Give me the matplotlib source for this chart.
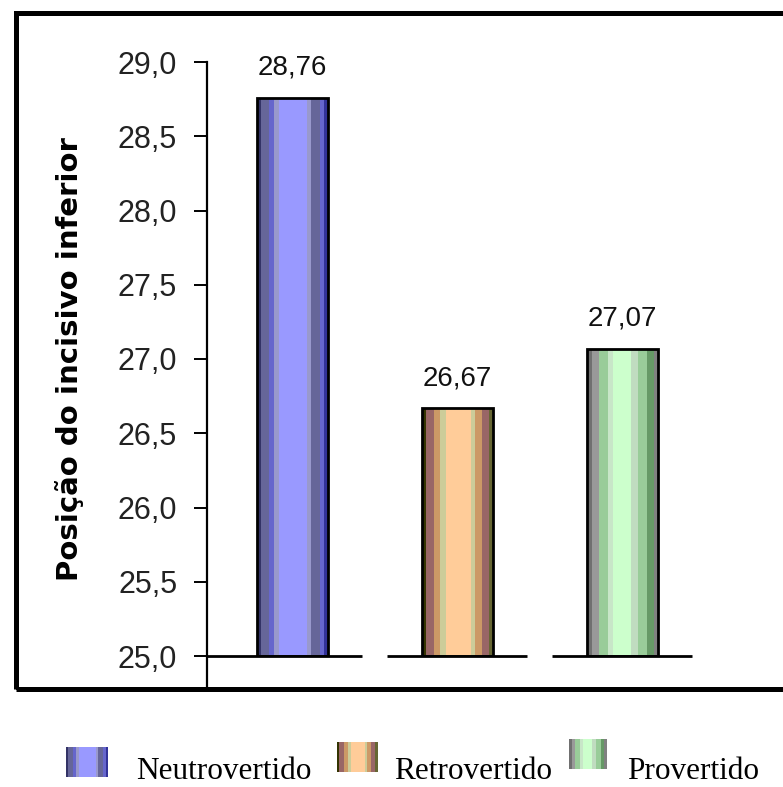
import numpy as np
import matplotlib
matplotlib.use('Agg')
import matplotlib.pyplot as plt
from matplotlib.colors import to_rgb
from matplotlib.patches import Rectangle

# ---------------- data ----------------
categories = ['Neutrovertido', 'Retrovertido', 'Provertido']
values = [28.76, 26.67, 27.07]
value_labels = ['28,76', '26,67', '27,07']
yticks = [25.0, 25.5, 26.0, 26.5, 27.0, 27.5, 28.0, 28.5, 29.0]
ytick_labels = ['25,0', '25,5', '26,0', '26,5', '27,0', '27,5', '28,0', '28,5', '29,0']
ylabel = 'Posição do incisivo inferior'

# ---------------- style ----------------
W, H = 783, 787
# stripe definitions: (end fraction, colour) across the bar width
stripes = [
    [(0.05, '#333366'), (0.17, '#666699'), (0.24, '#6666cc'), (0.31, '#9999cc'),
     (0.71, '#9999ff'), (0.76, '#9999cc'), (0.88, '#666699'), (0.95, '#6666cc'), (1.0, '#333399')],
    [(0.05, '#333300'), (0.17, '#996666'), (0.26, '#cc9966'), (0.33, '#cccc99'),
     (0.68, '#ffcc99'), (0.74, '#cccc99'), (0.84, '#cc9966'), (0.94, '#996666'), (1.0, '#666633')],
    [(0.07, '#707070'), (0.17, '#999999'), (0.30, '#99cc99'), (0.37, '#c8e6c8'),
     (0.62, '#ccffcc'), (0.72, '#c0dcc0'), (0.84, '#99cc99'), (0.94, '#669966'), (1.0, '#808080')],
]


def stripe_image(spec, n=120):
    img = np.zeros((1, n, 3))
    for j in range(n):
        f = (j + 0.5) / n
        for end, col in spec:
            if f <= end:
                img[0, j] = to_rgb(col)
                break
    return img


fig = plt.figure(figsize=(W / 100, H / 100), dpi=100)
fig.patch.set_facecolor('white')

ax_left, ax_right, ax_top, ax_bot = 207, 715, 62, 656
ax = fig.add_axes([ax_left / W, 1 - ax_bot / H, (ax_right - ax_left) / W, (ax_bot - ax_top) / H])
ax.set_facecolor('none')

base = yticks[0]
x = np.arange(len(categories))
bars = ax.bar(x, np.array(values) - base, bottom=base, width=0.43, facecolor='none',
              edgecolor='black', linewidth=2, zorder=3)
for i, b in enumerate(bars):
    x0 = b.get_x()
    x1 = x0 + b.get_width()
    y0 = b.get_y()
    im = ax.imshow(stripe_image(stripes[i]), extent=[x0, x1, y0, y0 + b.get_height()],
                   aspect='auto', interpolation='nearest', zorder=2)
    im.set_clip_path(b)

ax.set_xlim(-0.52, 2.56)
ax.set_ylim(25, 29)

# base segments under each bar
for i, b in enumerate(bars):
    xc = b.get_x() + b.get_width() / 2
    xl = ax.get_xlim()[0] if i == 0 else xc - 0.43
    ax.plot([xl, xc + 0.42], [base, base], color='black', lw=2, clip_on=False, zorder=4,
            solid_capstyle='butt')

# value labels
for b, lab in zip(bars, value_labels):
    ax.annotate(lab, (b.get_x() + b.get_width() / 2, b.get_y() + b.get_height()),
                xytext=(0, 21.5), textcoords='offset points', ha='center', va='center',
                fontsize=20, family='Liberation Sans', color='#111111')

for s in ax.spines.values():
    s.set_visible(False)
ax.plot([0, 0], [-0.05, 1], transform=ax.transAxes, color='black', lw=1.6, clip_on=False, zorder=5)

ax.set_yticks(yticks)
ax.set_yticklabels(ytick_labels, family='Liberation Sans', fontsize=22, color='#222222')
ax.tick_params(axis='y', direction='out', length=9.5, width=1.4, pad=12)
ax.set_xticks([])

fig.text(70 / W, 1 - 359 / H, ylabel, rotation=90, ha='center', va='center',
         fontsize=21, fontweight='bold', family='DejaVu Sans')

# outer border
fig.patches.append(Rectangle((15.5 / W, 1 - 689 / H), 1.0, (689 - 12.5) / H,
                             transform=fig.transFigure, fill=False, edgecolor='black',
                             linewidth=3.6, clip_on=False))

# legend
patch_boxes = [(66, 747, 108, 777), (337, 742, 378, 772), (569, 739, 607, 769)]
text_x = [136, 394, 627]
for i, cat in enumerate(categories):
    px0, py0, px1, py1 = patch_boxes[i]
    lax = fig.add_axes([px0 / W, 1 - py1 / H, (px1 - px0) / W, (py1 - py0) / H])
    lax.imshow(stripe_image(stripes[i], 60), aspect='auto', interpolation='nearest')
    lax.axis('off')
    fig.text(text_x[i] / W, 1 - 779 / H, cat, ha='left', va='baseline',
             fontsize=22.5, family='Liberation Serif', color='black')

fig.savefig('out.png', dpi=100)
